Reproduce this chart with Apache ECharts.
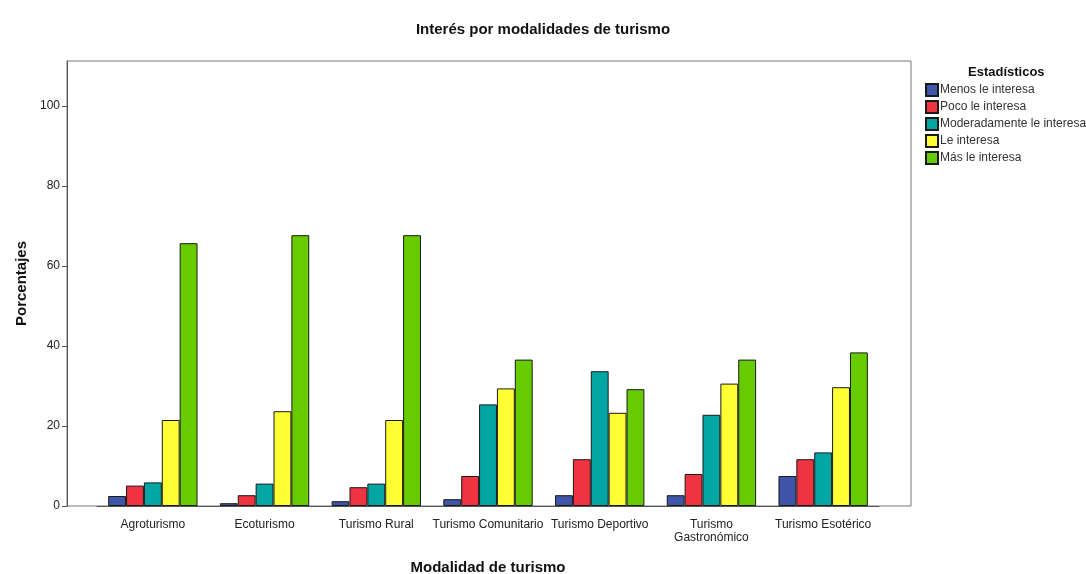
<!DOCTYPE html>
<html>
<head>
<meta charset="utf-8">
<script src="https://cdn.jsdelivr.net/npm/echarts@6/dist/echarts.min.js"></script>
<style>
  html, body { margin: 0; padding: 0; background: #fff; }
  #main { width: 1086px; height: 574px; }
</style>
</head>
<body>
<div id="main"></div>
<script>
// categorias y valores (porcentajes)
var modalidades = ['Agroturismo', 'Ecoturismo', 'Turismo Rural', 'Turismo Comunitario',
    'Turismo Deportivo', 'Turismo\nGastronómico', 'Turismo Esotérico'];
var menos = [2.5, 0.7, 1.2, 1.7, 2.7, 2.7, 7.5];
var poco = [5.1, 2.7, 4.7, 7.5, 11.7, 8.0, 11.7];
var moderado = [5.9, 5.6, 5.6, 25.4, 33.7, 22.8, 13.4];
var leInteresa = [21.5, 23.7, 21.5, 29.4, 23.3, 30.6, 29.7];
var masInteresa = [65.7, 67.7, 67.7, 36.6, 29.2, 36.6, 38.4];
var yTicks = [0, 20, 40, 60, 80, 100];

var myChart = echarts.init(document.getElementById('main'));

function serie(nombre, datos, color) {
    return {
        name: nombre,
        type: 'bar',
        data: datos,
        barGap: 0,
        barCategoryGap: '20%',
        itemStyle: { color: color, borderColor: '#1a1a1a', borderWidth: 1 },
        emphasis: { disabled: true }
    };
}

var option = {
    animation: false,
    backgroundColor: '#fff',
    textStyle: { fontFamily: 'Liberation Sans, Arial, sans-serif' },
    title: [
        {
            text: 'Interés por modalidades de turismo',
            left: 'center',
            top: 17,
            textStyle: { fontSize: 15, fontWeight: 'bold', color: '#111' }
        },
        {
            text: 'Estadísticos',
            left: 963,
            top: 61,
            textStyle: { fontSize: 13, fontWeight: 'bold', color: '#111' }
        }
    ],
    legend: {
        orient: 'vertical',
        left: 925,
        top: 83,
        padding: 0,
        itemWidth: 12,
        itemHeight: 12,
        itemGap: 3,
        icon: 'rect',
        textStyle: { fontSize: 12, color: '#333', padding: [0, 0, 0, -3] },
        data: ['Menos le interesa', 'Poco le interesa', 'Moderadamente le interesa', 'Le interesa', 'Más le interesa']
    },
    grid: [
        { left: 97, right: 207, top: 61, bottom: 68, outerBoundsMode: 'none' },
        { left: 67, right: 175, top: 61, bottom: 68, outerBoundsMode: 'none', show: true, borderColor: '#777', borderWidth: 1, backgroundColor: 'transparent' }
    ],
    xAxis: [
        {
            type: 'category',
            data: modalidades,
            axisLine: { show: true, lineStyle: { color: '#555' } },
            axisTick: { alignWithLabel: true, length: 5, lineStyle: { color: '#555' } },
            axisLabel: { fontSize: 12, color: '#222', margin: 12, interval: 0, lineHeight: 13 },
            name: 'Modalidad de turismo',
            nameLocation: 'middle',
            nameGap: 54,
            nameTextStyle: { fontSize: 15, fontWeight: 'bold', color: '#111' }
        },
        { gridIndex: 1, type: 'value', show: false }
    ],
    yAxis: [
        {
            type: 'value',
            min: 0,
            max: 111.25,
            interval: 20,
            offset: 30,
            axisLine: { show: true, lineStyle: { color: '#555' } },
            axisTick: { show: true, length: 5, customValues: yTicks, lineStyle: { color: '#555' } },
            axisLabel: { fontSize: 12, color: '#222', margin: 7, customValues: yTicks },
            splitLine: { show: false },
            name: 'Porcentajes',
            nameLocation: 'middle',
            nameGap: 38,
            nameTextStyle: { fontSize: 15, fontWeight: 'bold', color: '#111' }
        },
        { gridIndex: 1, type: 'value', show: false }
    ],
    series: [
        serie('Menos le interesa', menos, '#3e55a8'),
        serie('Poco le interesa', poco, '#ef3340'),
        serie('Moderadamente le interesa', moderado, '#00a6a4'),
        serie('Le interesa', leInteresa, '#ffff33'),
        serie('Más le interesa', masInteresa, '#66cc00')
    ]
};

myChart.setOption(option);

window.onresize = function () {
    myChart.resize();
};
</script>
</body>
</html>
